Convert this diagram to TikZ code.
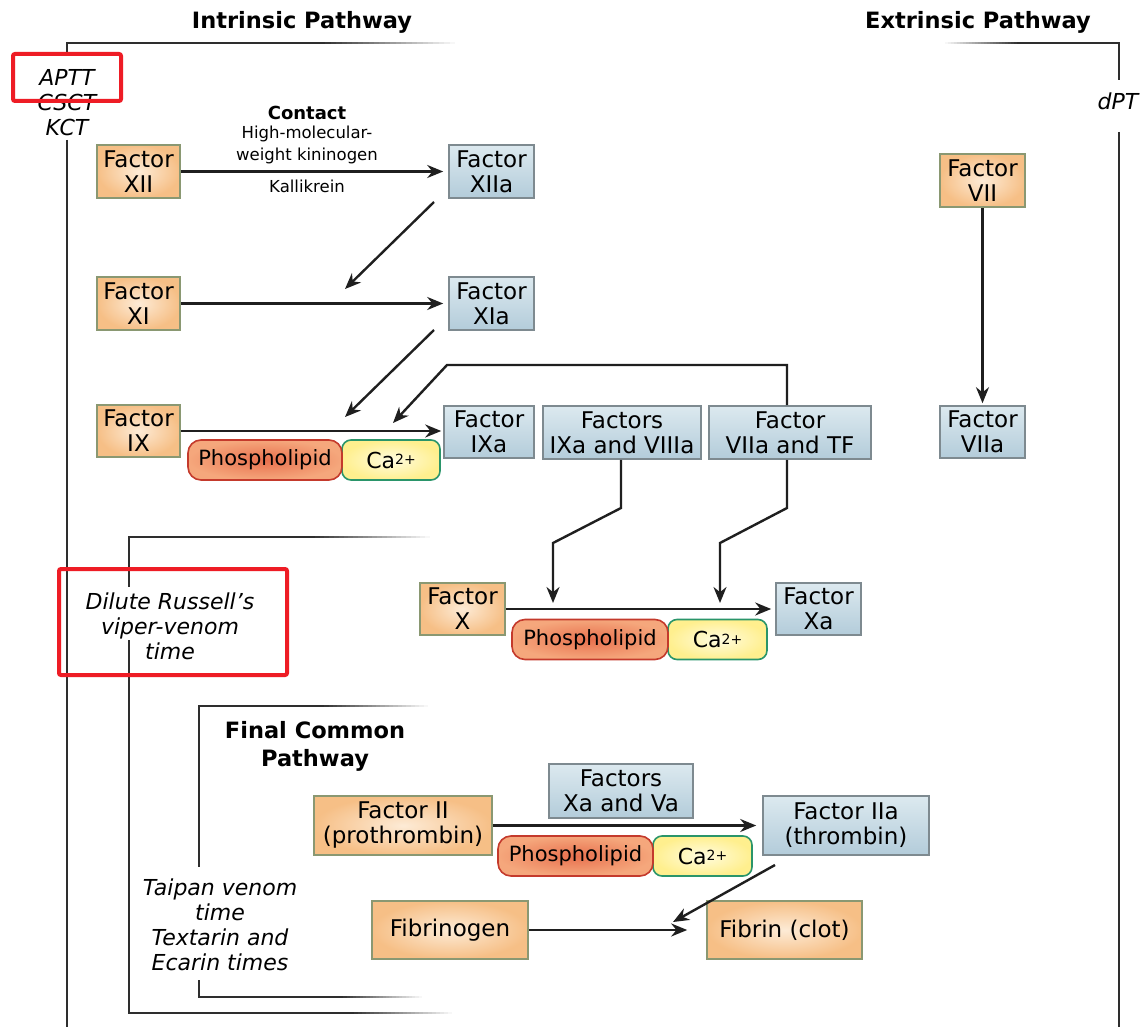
\documentclass[tikz,border=0pt]{standalone}
\usepackage{fontspec}
\setmainfont{DejaVu Sans}
\usetikzlibrary{arrows.meta}
\definecolor{orfill}{HTML}{F6BF86}
\definecolor{orin}{HTML}{FDEBD6}
\definecolor{orborder}{HTML}{8A9872}
\definecolor{blfill}{HTML}{B3CCDA}
\definecolor{blin}{HTML}{DCE9EF}
\definecolor{blborder}{HTML}{7E8A90}
\definecolor{phred}{HTML}{C43A2C}
\definecolor{phin}{HTML}{E8704E}
\definecolor{phout}{HTML}{F5A77C}
\definecolor{cagreen}{HTML}{2A956A}
\definecolor{cain}{HTML}{FFFCE0}
\definecolor{caout}{HTML}{FFEF8E}
\definecolor{brk}{HTML}{2E2E2E}
\definecolor{redmark}{HTML}{EE1C25}
\newcommand{\fadeR}[4]{% x1 xm x2 y : solid x1..xm, fading xm..x2
  \fill[brk] (#1,#4-1.2) rectangle (#2,#4+1.2);
  \foreach \i in {0,...,24}{%
    \pgfmathsetmacro\xa{#2+(#3-#2)*\i/25}%
    \pgfmathsetmacro\xb{#2+(#3-#2)*(\i+1)/25+0.4}%
    \pgfmathtruncatemacro\pc{100-4*\i}%
    \fill[brk!\pc!white] (\xa,#4-1.2) rectangle (\xb,#4+1.2);}}
\newcommand{\fadeL}[4]{% x1 xm x2 y : fading x1..xm, solid xm..x2
  \fill[brk] (#2,#4-1.2) rectangle (#3,#4+1.2);
  \foreach \i in {0,...,24}{%
    \pgfmathsetmacro\xa{#1+(#2-#1)*\i/25}%
    \pgfmathsetmacro\xb{#1+(#2-#1)*(\i+1)/25+0.4}%
    \pgfmathtruncatemacro\pc{4+4*\i}%
    \fill[brk!\pc!white] (\xa,#4-1.2) rectangle (\xb,#4+1.2);}}
\newcommand{\caion}{Ca\raisebox{3.5pt}{\fontsize{14}{14}\selectfont 2+}}
\tikzset{
  boxbase/.style={line width=1.6pt, align=center, inner sep=0pt,
    font=\fontsize{23}{25}\selectfont},
  orbox/.style={boxbase, draw=orborder, inner color=orin, outer color=orfill},
  blbox/.style={boxbase, draw=blborder, top color=blin, bottom color=blfill},
  phpill/.style={draw=phred, line width=1.6pt, inner color=phin, outer color=phout,
    rounded corners=13pt, minimum height=40, inner sep=0pt,
    font=\fontsize{21}{21}\selectfont},
  capill/.style={draw=cagreen, line width=1.6pt, inner color=cain, outer color=caout,
    rounded corners=9pt, minimum height=40, inner sep=0pt,
    font=\fontsize{22}{22}\selectfont},
  arr/.style={line width=2.4pt, black!88, -{Stealth[length=16pt,width=13pt]}},
  brline/.style={line width=2.4pt, brk},
  tlabel/.style={font=\fontsize{22}{25}\selectfont\itshape, align=center, inner sep=0pt},
  ttl/.style={font=\fontsize{22.5}{28}\selectfont\bfseries, align=center, inner sep=0pt},
  small/.style={font=\fontsize{16.5}{18}\selectfont, inner sep=0pt},
  redbox/.style={draw=redmark, line width=4pt, rounded corners=2pt}
}
\begin{document}
\begin{tikzpicture}[x=1pt,y=-1pt]
\useasboundingbox (0,0) rectangle (1144,1027);
\fill[white] (0,0) rectangle (1144,1027);

% ---------- titles ----------
\node[ttl] (tintr) at (302,22) {Intrinsic Pathway};
\node[ttl] (textr) at (978,22) {Extrinsic Pathway};
\node[ttl] (tfinal) at (315,746) {Final Common\\Pathway};

% ---------- brackets ----------
\fadeR{66}{320}{455}{43}
\draw[brline] (67,43) -- (67,55);
\draw[brline] (67,140) -- (67,1027);
\fadeL{945}{1020}{1120}{43}
\draw[brline] (1119,43) -- (1119,80);
\draw[brline] (1119,132) -- (1119,1027);
\fadeR{128}{310}{430}{537}
\draw[brline] (129,537) -- (129,587);
\draw[brline] (129,640) -- (129,1013);
\fadeR{128}{350}{452}{1013}
\fadeR{198}{320}{428}{706}
\draw[brline] (199,706) -- (199,867);
\draw[brline] (199,980) -- (199,997);
\fadeR{198}{340}{422}{997}

% ---------- test labels ----------
\node[tlabel] (aptt) at (67,103) {APTT\\CSCT\\KCT};
\node[tlabel] (dpt) at (1118,101) {dPT};
\node[tlabel] (drvvt) at (170,626) {Dilute Russell’s\\viper-venom\\time};
\node[tlabel] (taipan) at (220,925) {Taipan venom\\time\\Textarin and\\Ecarin times};
\draw[redbox] (13,54) rectangle (121,101);
\draw[redbox] (59,569) rectangle (287,675);

% ---------- factor boxes ----------
\node[orbox, minimum width=83, minimum height=53] (f12) at (138.5,171.5) {Factor\\XII};
\node[blbox, minimum width=85, minimum height=53] (f12a) at (491.5,171.5) {Factor\\XIIa};
\node[orbox, minimum width=83, minimum height=53] (f11) at (138.5,303.5) {Factor\\XI};
\node[blbox, minimum width=85, minimum height=53] (f11a) at (491.5,303.5) {Factor\\XIa};
\node[orbox, minimum width=83, minimum height=52] (f9) at (138.5,431) {Factor\\IX};
\node[blbox, minimum width=90, minimum height=52] (f9a) at (489,432) {Factor\\IXa};
\node[blbox, minimum width=158, minimum height=53] (f9a8a) at (622,432.5) {Factors\\IXa and VIIIa};
\node[blbox, minimum width=162, minimum height=53] (f7atf) at (790,432.5) {Factor\\VIIa and TF};
\node[orbox, minimum width=85, minimum height=53] (f7) at (982.5,180.5) {Factor\\VII};
\node[blbox, minimum width=85, minimum height=52] (f7a) at (982.5,432) {Factor\\VIIa};
\node[orbox, minimum width=85, minimum height=52] (f10) at (462.5,609) {Factor\\X};
\node[blbox, minimum width=85, minimum height=52] (f10a) at (818.5,609) {Factor\\Xa};
\node[orbox, minimum width=178, minimum height=59] (f2) at (403,825.5) {Factor II\\(prothrombin)};
\node[blbox, minimum width=144, minimum height=54] (fxava) at (621,791) {Factors\\Xa and Va};
\node[blbox, minimum width=166, minimum height=59] (f2a) at (846,825.5) {Factor IIa\\(thrombin)};
\node[orbox, minimum width=156, minimum height=58] (fgen) at (450,930) {Fibrinogen};
\node[orbox, minimum width=155, minimum height=58] (fib) at (784.5,930) {Fibrin (clot)};

% ---------- cofactor pills ----------
\node[capill, minimum width=98] (ca1) at (391,460) {\caion};
\node[phpill, minimum width=154] (ph1) at (265,460) {Phospholipid};
\node[capill, minimum width=99] (ca2) at (717.5,639.5) {\caion};
\node[phpill, minimum width=156] (ph2) at (590,639.5) {Phospholipid};
\node[capill, minimum width=99] (ca3) at (702.5,856) {\caion};
\node[phpill, minimum width=155] (ph3) at (575.5,856) {Phospholipid};

% ---------- contact labels ----------
\node[font=\fontsize{18}{18}\selectfont\bfseries, inner sep=0pt] (lcontact) at (307,113) {Contact};
\node[small] (lhmw1) at (307,134) {High-molecular-};
\node[small] (lhmw2) at (307,156) {weight kininogen};
\node[small] (lkal) at (307,186) {Kallikrein};

% ---------- coordinates ----------
\coordinate (d1s) at (434,202);
\coordinate (d1e) at (345,289);
\coordinate (d2s) at (434,330);
\coordinate (d2e) at (345,417);
\coordinate (lpa) at (787,365);
\coordinate (lpb) at (447,365);
\coordinate (lpe) at (393,423);
\coordinate (k1a) at (621,508);
\coordinate (k1b) at (553,543);
\coordinate (k1e) at (553,603);
\coordinate (k2a) at (787,508);
\coordinate (k2b) at (720,543);
\coordinate (k2e) at (720,603);
\coordinate (d3s) at (775,865);
\coordinate (d3e) at (673,922);

% ---------- connectors ----------
\draw[arr, shorten >=5pt] (f12.east) -- (f12a.west);
\draw[arr] (d1s) -- (d1e);
\draw[arr, shorten >=5pt] (f11.east) -- (f11a.west);
\draw[arr] (d2s) -- (d2e);
\draw[arr, shorten >=2pt] (f9.east) -- (f9.east -| f9a.west);
\draw[arr] (f7atf.north -| lpa) -- (lpa) -- (lpb) -- (lpe);
\draw[arr, shorten >=2pt] (f7.south) -- (f7a.north);
\draw[arr] (f9a8a.south -| k1a) -- (k1a) -- (k1b) -- (k1e);
\draw[arr] (f7atf.south -| k2a) -- (k2a) -- (k2b) -- (k2e);
\draw[arr, shorten >=4pt] (f10.east) -- (f10a.west);
\draw[arr, shorten >=6pt] (f2.east) -- (f2a.west);
\draw[arr] (d3s) -- (d3e);
\draw[arr, shorten >=19pt] (fgen.east) -- (fib.west);
\end{tikzpicture}
\end{document}
